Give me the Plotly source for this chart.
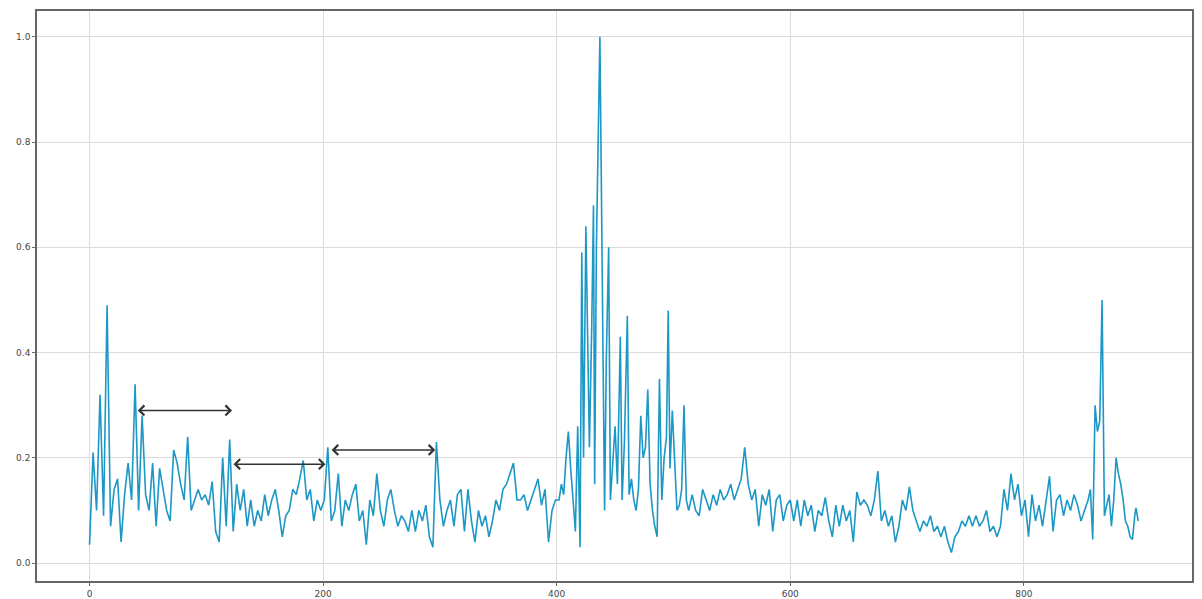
import plotly.graph_objects as go

# Segment A: samples 0..399, one every 3 units
y_a = [0.035, 0.21, 0.10, 0.32, 0.09, 0.49, 0.07, 0.14, 0.16, 0.04,
       0.13, 0.19, 0.12, 0.34, 0.10, 0.28, 0.13, 0.10, 0.19, 0.07,
       0.18, 0.14, 0.10, 0.08, 0.215, 0.19, 0.15, 0.12, 0.24, 0.10,
       0.12, 0.14, 0.12, 0.13, 0.11, 0.155, 0.06, 0.04, 0.20, 0.07,
       0.235, 0.06, 0.15, 0.10, 0.14, 0.07, 0.12, 0.07, 0.10, 0.08,
       0.13, 0.09, 0.12, 0.14, 0.10, 0.05, 0.09, 0.10, 0.14, 0.13,
       0.16, 0.195, 0.12, 0.14, 0.08, 0.12, 0.10, 0.12, 0.22, 0.08,
       0.10, 0.17, 0.07, 0.12, 0.10, 0.13, 0.15, 0.08, 0.10, 0.035,
       0.12, 0.09, 0.17, 0.10, 0.07, 0.12, 0.14, 0.10, 0.07, 0.09,
       0.08, 0.06, 0.10, 0.06, 0.10, 0.08, 0.11, 0.05, 0.03, 0.23,
       0.12, 0.07, 0.10, 0.12, 0.07, 0.13, 0.14, 0.06, 0.14, 0.08,
       0.04, 0.10, 0.07, 0.09, 0.05, 0.08, 0.12, 0.10, 0.14, 0.15,
       0.17, 0.19, 0.12, 0.12, 0.13, 0.10, 0.12, 0.14, 0.16, 0.11,
       0.14, 0.04, 0.10, 0.12]
x_a = [3 * i for i in range(len(y_a))]

# Segment B: the main burst, irregular sample positions
x_b = [402, 404, 406, 408, 410, 412, 414, 416, 418, 420,
       421.5, 423, 425, 426.5, 428, 430, 431.5, 432.5, 434, 437,
       439, 441, 442.5, 444.5, 446, 448, 450, 452, 454.5, 456,
       458, 460.5, 462, 464, 466, 468, 470, 472, 474, 476,
       478, 480, 482, 484, 486, 488, 490, 492, 494, 495.5,
       497, 499, 501, 503, 505, 507, 509, 511]
y_b = [0.12, 0.15, 0.13, 0.20, 0.25, 0.18, 0.11, 0.06, 0.26, 0.03,
       0.59, 0.20, 0.64, 0.39, 0.22, 0.45, 0.68, 0.15, 0.60, 1.00,
       0.55, 0.10, 0.39, 0.60, 0.12, 0.20, 0.26, 0.15, 0.43, 0.12,
       0.23, 0.47, 0.13, 0.16, 0.12, 0.10, 0.14, 0.28, 0.20, 0.22,
       0.33, 0.15, 0.10, 0.07, 0.05, 0.35, 0.12, 0.20, 0.24, 0.48,
       0.18, 0.29, 0.20, 0.10, 0.11, 0.14, 0.30, 0.12]

# Segment C: samples 513..855, one every 3 units
y_c = [0.10, 0.13, 0.10, 0.09, 0.14, 0.12, 0.10, 0.13, 0.11, 0.14,
       0.12, 0.13, 0.15, 0.12, 0.14, 0.16, 0.22, 0.15, 0.12, 0.14,
       0.07, 0.13, 0.11, 0.14, 0.06, 0.12, 0.13, 0.08, 0.11, 0.12,
       0.08, 0.12, 0.07, 0.12, 0.09, 0.11, 0.06, 0.10, 0.09, 0.125,
       0.08, 0.05, 0.11, 0.07, 0.11, 0.08, 0.10, 0.04, 0.135, 0.11,
       0.12, 0.11, 0.09, 0.12, 0.175, 0.08, 0.10, 0.07, 0.09, 0.04,
       0.07, 0.12, 0.10, 0.145, 0.10, 0.08, 0.06, 0.08, 0.07, 0.09,
       0.06, 0.07, 0.05, 0.07, 0.04, 0.02, 0.05, 0.06, 0.08, 0.07,
       0.09, 0.07, 0.09, 0.07, 0.08, 0.10, 0.06, 0.07, 0.05, 0.07,
       0.14, 0.10, 0.17, 0.12, 0.15, 0.09, 0.12, 0.05, 0.13, 0.08,
       0.11, 0.07, 0.12, 0.165, 0.06, 0.12, 0.13, 0.09, 0.12, 0.10,
       0.13, 0.11, 0.08, 0.10, 0.12]
x_c = [513 + 3 * i for i in range(len(y_c))]

# Segment D: the late spike and tail
x_d = [857, 859, 861, 863, 865, 867, 869, 871, 873, 875,
       877, 879, 881, 883, 885, 887, 889, 891, 893, 895, 896, 898]
y_d = [0.14, 0.045, 0.30, 0.25, 0.27, 0.50, 0.09, 0.11, 0.13, 0.07,
       0.12, 0.20, 0.17, 0.15, 0.12, 0.08, 0.07, 0.05, 0.045, 0.09, 0.105, 0.08]

x_all = x_a + x_b + x_c + x_d
y_all = y_a + y_b + y_c + y_d

# Double-headed arrows: (x_start, x_end, y)
arrow_x0 = [40, 122, 206]
arrow_x1 = [122, 202, 296]
arrow_y = [0.29, 0.188, 0.215]

x_ticks = [0, 200, 400, 600, 800]
y_ticks = [0.0, 0.2, 0.4, 0.6, 0.8, 1.0]

fig = go.Figure()
fig.add_trace(go.Scatter(x=x_all, y=y_all, mode="lines",
                         line=dict(color="#1c97c6", width=1.6),
                         showlegend=False, hoverinfo="skip"))

for xa, xb, ya in zip(arrow_x0, arrow_x1, arrow_y):
    fig.add_annotation(x=xb, y=ya, ax=xa, ay=ya, xref="x", yref="y",
                       axref="x", ayref="y", text="", showarrow=True,
                       arrowhead=4, startarrowhead=4, arrowside="end+start",
                       arrowsize=1.3, startarrowsize=1.3,
                       arrowwidth=1.5, arrowcolor="#333333")

axis_common = dict(showline=True, linecolor="#666666", linewidth=1.5, mirror=True,
                   showgrid=True, gridcolor="#dcdcdc", gridwidth=1,
                   zeroline=False, ticks="outside", ticklen=3, tickcolor="#666666",
                   automargin=False,
                   tickfont=dict(family="DejaVu Sans", size=9, color="#444444"))

fig.update_xaxes(range=[-45, 944], tickvals=x_ticks, **axis_common)
fig.update_yaxes(range=[-0.034, 1.049], tickvals=y_ticks, tickformat=".1f", **axis_common)

fig.update_layout(width=1202, height=599, paper_bgcolor="white", plot_bgcolor="white",
                  margin=dict(l=29, r=18, t=3, b=26))

fig.write_html("out.html")
